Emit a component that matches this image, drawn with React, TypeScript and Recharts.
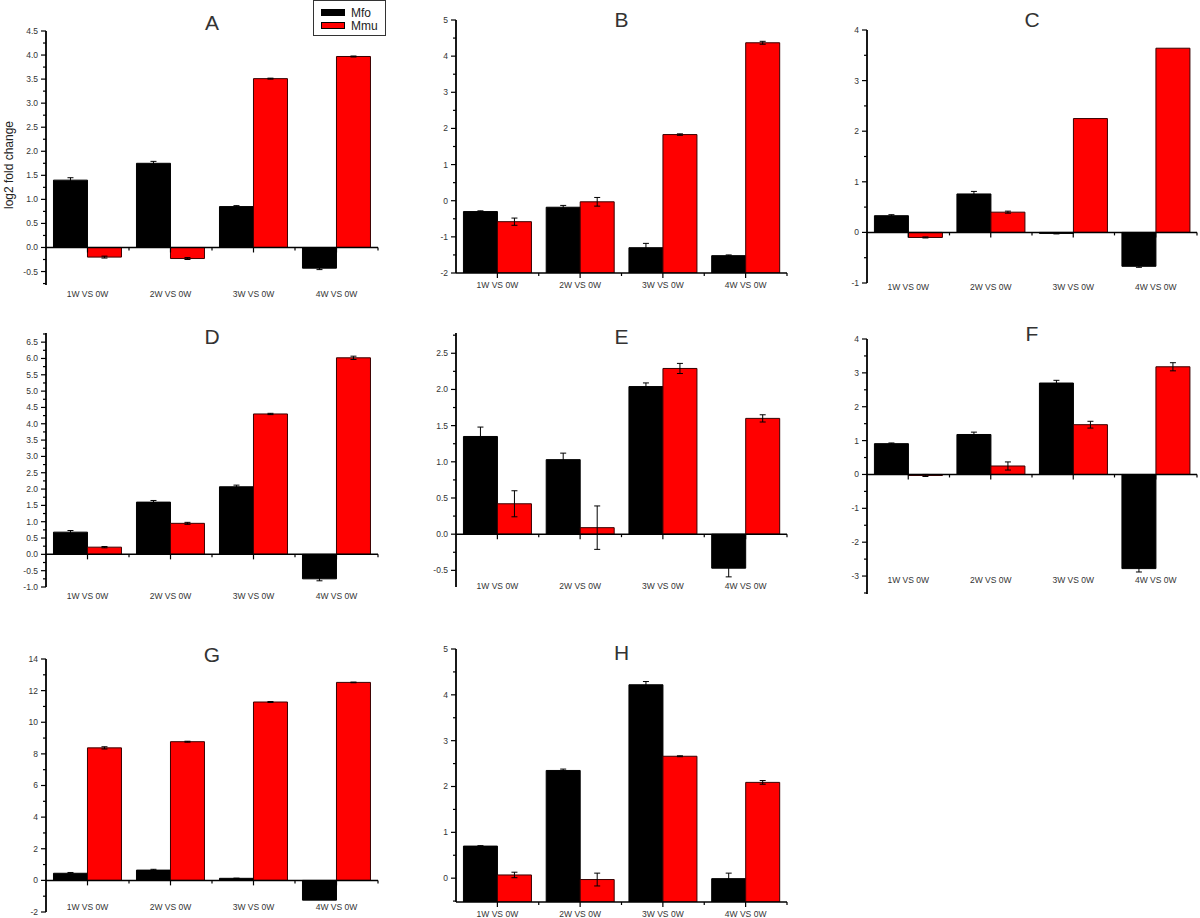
import { BarChart, Bar, XAxis, YAxis, ErrorBar, ReferenceLine, Legend } from 'recharts'

const FONT = '"Liberation Sans", Arial, sans-serif'

const categories = ['1W VS 0W', '2W VS 0W', '3W VS 0W', '4W VS 0W']

// panel A
const mfoA = [1.4, 1.75, 0.85, -0.43]
const mmuA = [-0.2, -0.23, 3.51, 3.97]
const mfoErrA = [0.05, 0.04, 0.02, 0.03]
const mmuErrA = [0.02, 0.02, 0.01, 0.01]
const ticksA = [-0.5, 0, 0.5, 1, 1.5, 2, 2.5, 3, 3.5, 4, 4.5]

// panel B
const mfoB = [-0.3, -0.18, -1.3, -1.52]
const mmuB = [-0.58, -0.03, 1.83, 4.37]
const mfoErrB = [0.02, 0.05, 0.12, 0.02]
const mmuErrB = [0.1, 0.12, 0.02, 0.04]
const ticksB = [-2, -1, 0, 1, 2, 3, 4, 5]

// panel C
const mfoC = [0.33, 0.76, -0.02, -0.67]
const mmuC = [-0.1, 0.4, 2.25, 3.64]
const mfoErrC = [0.02, 0.05, 0.01, 0.02]
const mmuErrC = [0.01, 0.02, 0.0, 0.0]
const ticksC = [-1, 0, 1, 2, 3, 4]

// panel D
const mfoD = [0.68, 1.6, 2.07, -0.75]
const mmuD = [0.22, 0.95, 4.3, 6.02]
const mfoErrD = [0.05, 0.05, 0.05, 0.06]
const mmuErrD = [0.02, 0.03, 0.02, 0.05]
const ticksD = [-1, -0.5, 0, 0.5, 1, 1.5, 2, 2.5, 3, 3.5, 4, 4.5, 5, 5.5, 6, 6.5]

// panel E
const mfoE = [1.35, 1.03, 2.04, -0.47]
const mmuE = [0.42, 0.09, 2.29, 1.6]
const mfoErrE = [0.13, 0.09, 0.05, 0.12]
const mmuErrE = [0.18, 0.3, 0.07, 0.05]
const ticksE = [-0.5, 0, 0.5, 1, 1.5, 2, 2.5]

// panel F
const mfoF = [0.91, 1.18, 2.7, -2.78]
const mmuF = [-0.03, 0.25, 1.47, 3.18]
const mfoErrF = [0.02, 0.07, 0.08, 0.1]
const mmuErrF = [0.03, 0.12, 0.1, 0.12]
const ticksF = [-3, -2, -1, 0, 1, 2, 3, 4]

// panel G
const mfoG = [0.45, 0.65, 0.13, -1.25]
const mmuG = [8.38, 8.77, 11.28, 12.52]
const mfoErrG = [0.05, 0.05, 0.01, 0.0]
const mmuErrG = [0.07, 0.03, 0.03, 0.02]
const ticksG = [-2, 0, 2, 4, 6, 8, 10, 12, 14]

// panel H
const mfoH = [0.7, 2.35, 4.22, -0.01]
const mmuH = [0.07, -0.03, 2.66, 2.09]
const mfoErrH = [0.01, 0.03, 0.07, 0.12]
const mmuErrH = [0.06, 0.14, 0.01, 0.04]
const ticksH = [0, 1, 2, 3, 4, 5]

const rows = (mfo: number[], mmu: number[], mfoErr: number[], mmuErr: number[]) =>
  categories.map((cat, i) => ({ cat, mfo: mfo[i], mmu: mmu[i], mfoErr: mfoErr[i], mmuErr: mmuErr[i] }))

// layout of each panel: plot rectangle on the page, axis domain, where the x axis line sits
const panels = [
  { id: 'A', data: rows(mfoA, mmuA, mfoErrA, mmuErrA), ticks: ticksA, dec: 1, x: 46, y: 31, w: 332, h: 254, domain: [-0.78, 4.5], axisY: 0, labelDy: 9, titleY: 23, legend: true },
  { id: 'B', data: rows(mfoB, mmuB, mfoErrB, mmuErrB), ticks: ticksB, dec: 0, x: 456, y: 20, w: 331, h: 253, domain: [-2, 5], axisY: -2, base: -2, labelDy: 12, titleY: 20 },
  { id: 'C', data: rows(mfoC, mmuC, mfoErrC, mmuErrC), ticks: ticksC, dec: 0, x: 867, y: 30, w: 330, h: 253, domain: [-1, 4], axisY: 0, labelDy: 4, titleY: 20 },
  { id: 'D', data: rows(mfoD, mmuD, mfoErrD, mmuErrD), ticks: ticksD, dec: 1, x: 46, y: 333, w: 332, h: 254, domain: [-1, 6.78], axisY: 0, labelDy: 9, titleY: 337 },
  { id: 'E', data: rows(mfoE, mmuE, mfoErrE, mmuErrE), ticks: ticksE, dec: 1, x: 456, y: 333, w: 331, h: 254, domain: [-0.73, 2.78], axisY: 0, labelDy: -1, titleY: 337 },
  { id: 'F', data: rows(mfoF, mmuF, mfoErrF, mmuErrF), ticks: ticksF, dec: 0, x: 867, y: 339, w: 330, h: 255, domain: [-3.53, 4], axisY: 0, labelDy: -14, titleY: 334 },
  { id: 'G', data: rows(mfoG, mmuG, mfoErrG, mmuErrG), ticks: ticksG, dec: 0, x: 46, y: 659, w: 332, h: 253, domain: [-2, 14], axisY: 0, labelDy: -5, titleY: 655 },
  { id: 'H', data: rows(mfoH, mmuH, mfoErrH, mmuErrH), ticks: ticksH, dec: 0, x: 456, y: 649, w: 331, h: 253, domain: [-0.52, 5], axisY: -0.52, base: -0.52, labelDy: 12, titleY: 653 },
]

// major ticks plus a minor tick halfway between each
const withMinor = (major: number[], domain: number[]) => {
  const half = (major[1] - major[0]) / 2
  const out: number[] = []
  for (let k = Math.ceil(domain[0] / half - 1e-9); k * half <= domain[1] + 1e-9; k++) out.push(+(k * half).toFixed(4))
  return out
}

const makeYTick = (majors: number[], dec: number) => (props: any) => {
  const { x, y, payload } = props
  const major = majors.some((m) => Math.abs(m - payload.value) < 1e-6)
  return (
    <g>
      <line x1={x - (major ? 5 : 3)} x2={x} y1={y} y2={y} stroke="#000" strokeWidth={1.2} />
      {major && (
        <text x={x - 8} y={y} dy="0.35em" textAnchor="end" fontSize={8.5} fill="#333" fontFamily={FONT}>
          {payload.value.toFixed(dec)}
        </text>
      )}
    </g>
  )
}

const makeXTick = (dy: number) => (props: any) => (
  <text x={props.x} y={props.y + dy} dy="0.35em" textAnchor="middle" fontSize={8.5} fill="#333" fontFamily={FONT}>
    {props.payload.value}
  </text>
)

// the x axis line drawn at the panel's axis value, with Origin-style tick marks
const XAxisLine = (props: any) => {
  const { x1, x2, y1 } = props
  const step = (x2 - x1) / categories.length
  const marks = categories.flatMap((_, i) => [
    { x: x1 + step * (i + 0.5), len: 5 },
    { x: x1 + step * (i + 1), len: 3 },
  ])
  return (
    <g>
      <line x1={x1} x2={x2} y1={y1} y2={y1} stroke="#000" strokeWidth={1.5} />
      {marks.map((m, i) => (
        <line key={i} x1={m.x} x2={m.x} y1={y1} y2={y1 + m.len} stroke="#000" strokeWidth={1.2} />
      ))}
    </g>
  )
}

const renderLegend = (props: any) => (
  <div
    style={{
      width: 73,
      height: 36,
      boxSizing: 'border-box',
      border: '1.5px solid #333',
      background: '#fff',
      padding: '5px 0 0 7px',
      fontFamily: FONT,
      fontSize: 12,
      color: '#222',
    }}
  >
    {(props.payload || []).map((item: any) => (
      <div key={item.value} style={{ display: 'flex', alignItems: 'center', height: 13 }}>
        <span style={{ width: 22, height: 5, background: item.color, border: '1px solid #000', marginRight: 6 }} />
        {item.value}
      </div>
    ))}
  </div>
)

const renderYLabel = (props: any) => {
  const vb = props.viewBox || { x: 0, y: 30, height: 254 }
  const cx = 9
  const cy = vb.y + vb.height / 2 + 7
  return (
    <text x={cx} y={cy} transform={`rotate(-90, ${cx}, ${cy})`} textAnchor="middle" dy="0.35em" fontSize={12} fill="#222" fontFamily={FONT}>
      log2 fold change
    </text>
  )
}

function Panel({ p }: { p: any }) {
  const left = p.x - 46
  const top = p.y - 30
  const mfoKey = p.base !== undefined ? (d: any) => [p.base, d.mfo] : 'mfo'
  const mmuKey = p.base !== undefined ? (d: any) => [p.base, d.mmu] : 'mmu'
  return (
    <div style={{ position: 'absolute', left, top }}>
      <BarChart
        width={p.w + 58}
        height={p.h + 60}
        data={p.data}
        margin={{ top: 30, right: 12, left: 0, bottom: 0 }}
        barCategoryGap="9%"
        barGap={0}
      >
        <XAxis
          dataKey="cat"
          height={30}
          axisLine={false}
          tickLine={false}
          tickSize={0}
          tickMargin={0}
          interval={0}
          tick={makeXTick(p.labelDy)}
        />
        <YAxis
          width={46}
          type="number"
          domain={p.domain}
          allowDataOverflow
          ticks={withMinor(p.ticks, p.domain)}
          interval={0}
          axisLine={{ stroke: '#000', strokeWidth: 1.8 }}
          tickLine={false}
          tickSize={0}
          tickMargin={0}
          tick={makeYTick(p.ticks, p.dec)}
          label={p.legend ? renderYLabel : undefined}
        />
        {p.legend && (
          <Legend
            layout="horizontal"
            verticalAlign="middle"
            content={renderLegend}
            wrapperStyle={{ position: 'absolute', left: 313 - left, top: 0 - top, width: 73, height: 36, zIndex: 2 }}
          />
        )}
        <Bar dataKey={mfoKey} name="Mfo" fill="#000000" stroke="#000000" strokeWidth={1} isAnimationActive={false}>
          <ErrorBar dataKey="mfoErr" width={3} stroke="#000" strokeWidth={1} />
        </Bar>
        <Bar dataKey={mmuKey} name="Mmu" fill="#ff0000" stroke="#3a0000" strokeWidth={1} isAnimationActive={false}>
          <ErrorBar dataKey="mmuErr" width={3} stroke="#000" strokeWidth={1} />
        </Bar>
        <ReferenceLine y={p.axisY} ifOverflow="visible" shape={XAxisLine} />
      </BarChart>
      <div
        style={{
          position: 'absolute',
          left: 46,
          width: p.w,
          top: p.titleY - top - 13,
          height: 26,
          lineHeight: '26px',
          textAlign: 'center',
          fontFamily: FONT,
          fontSize: 21,
          color: '#333',
          pointerEvents: 'none',
        }}
      >
        {p.id}
      </div>
    </div>
  )
}

export default function App() {
  return (
    <div style={{ position: 'absolute', left: 0, top: 0, width: 1200, height: 918, background: '#fff', overflow: 'hidden' }}>
      {panels.map((p) => (
        <Panel key={p.id} p={p} />
      ))}
    </div>
  )
}
